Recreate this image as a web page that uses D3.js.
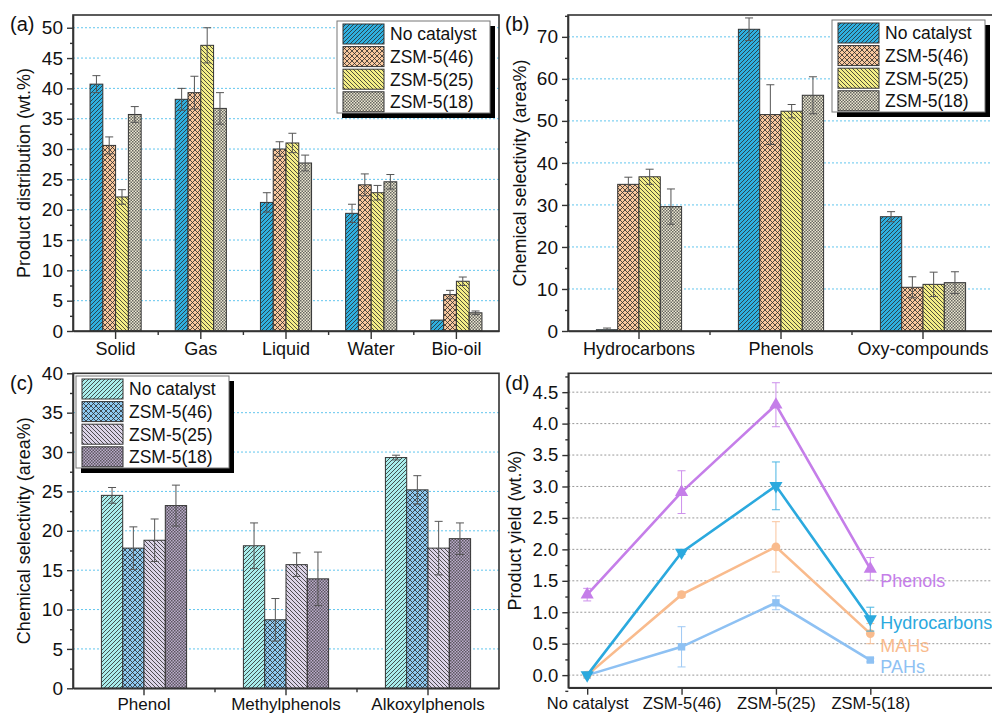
<!DOCTYPE html>
<html>
<head>
<meta charset="utf-8">
<script src="https://cdn.jsdelivr.net/npm/d3@7"></script>
<style>
  body { margin: 0; background: #fff; }
  svg { display: block; }
</style>
</head>
<body>
<script>
(function(){
	// ---- data ----
	const seriesNames = ["No catalyst", "ZSM-5(46)", "ZSM-5(25)", "ZSM-5(18)"];

	// (a) product distribution, wt.%
	const catsA = ["Solid", "Gas", "Liquid", "Water", "Bio-oil"];
	const valsA = [
		[40.7, 38.2, 21.2, 19.4, 1.8],
		[30.6, 39.3, 30.0, 24.1, 6.0],
		[22.1, 47.1, 31.0, 22.8, 8.2],
		[35.7, 36.7, 27.7, 24.6, 3.0]
	];
	const errA = [
		[1.4, 1.8, 1.6, 1.5, 0],
		[1.4, 2.7, 1.2, 1.8, 0.7],
		[1.2, 2.9, 1.6, 1.2, 0.7],
		[1.3, 2.6, 1.3, 1.2, 0.3]
	];

	// (b) chemical selectivity, area%
	const catsB = ["Hydrocarbons", "Phenols", "Oxy-compounds"];
	const valsB = [
		[0.3, 71.8, 27.2],
		[34.9, 51.5, 10.4],
		[36.7, 52.3, 11.1],
		[29.6, 56.1, 11.5]
	];
	const errB = [
		[0.4, 2.7, 1.2],
		[1.7, 7.1, 2.5],
		[1.8, 1.6, 2.9],
		[4.2, 4.4, 2.6]
	];

	// (c) chemical selectivity, area%
	const catsC = ["Phenol", "Methylphenols", "Alkoxylphenols"];
	const valsC = [
		[24.5, 18.1, 29.3],
		[17.8, 8.7, 25.2],
		[18.8, 15.7, 17.8],
		[23.2, 13.9, 19.0]
	];
	const errC = [
		[1.0, 2.9, 0.3],
		[2.7, 2.7, 1.8],
		[2.7, 1.5, 3.4],
		[2.6, 3.4, 2.0]
	];

	// (d) product yield, wt.%
	const catsD = ["No catalyst", "ZSM-5(46)", "ZSM-5(25)", "ZSM-5(18)"];
	const dNames = ["PAHs", "MAHs", "Phenols", "Hydrocarbons"];
	const dPAHs = [0, 0.45, 1.15, 0.24];
	const dPAHsErr = [0, 0.32, 0.11, 0.03];
	const dMAHs = [0, 1.28, 2.04, 0.66];
	const dMAHsErr = [0, 0.04, 0.40, 0.16];
	const dPhenols = [1.28, 2.91, 4.30, 1.69];
	const dPhenolsErr = [0.10, 0.34, 0.35, 0.18];
	const dHydro = [0, 1.95, 3.01, 0.89];
	const dHydroErr = [0, 0.03, 0.38, 0.19];
	const dLabelAt = [0.13, 0.47, 1.51, 0.83];

	// ---- setup ----
	const FONT = "'Liberation Sans', Arial, sans-serif";
	const AXIS = "#333";
	const svg = d3.select("body").append("svg")
		.attr("width", 992).attr("height", 715)
		.style("font-family", FONT);
	svg.append("rect").attr("width", 992).attr("height", 715).attr("fill", "#fff");
	const defs = svg.append("defs");

	// hatch patterns
	function pattern(id, fill, kind){
		var s = kind == "check" ? 3 : (kind == "cross" ? 5 : 4);
		var p = defs.append("pattern").attr("id", id)
			.attr("patternUnits", "userSpaceOnUse")
			.attr("width", s).attr("height", s);
		p.append("rect").attr("width", s).attr("height", s).attr("fill", fill);
		var fwd = "M0," + s + "L" + s + ",0M" + (-s/2) + "," + (s/2) + "L" + (s/2) + "," + (-s/2) + "M" + (s/2) + "," + (s*1.5) + "L" + (s*1.5) + "," + (s/2);
		var bwd = "M0,0L" + s + "," + s + "M" + (-s/2) + "," + (s/2) + "L" + (s/2) + "," + (s*1.5) + "M" + (s/2) + "," + (-s/2) + "L" + (s*1.5) + "," + (s/2);
		if(kind == "fwd" || kind == "cross")
			p.append("path").attr("d", fwd).attr("stroke", "#2a2a2a").attr("stroke-width", 0.8);
		if(kind == "bwd" || kind == "cross")
			p.append("path").attr("d", bwd).attr("stroke", "#2a2a2a").attr("stroke-width", 0.8);
		if(kind == "check"){
			p.append("rect").attr("width", 1.5).attr("height", 1.5).attr("fill", "#3a3a3a").attr("opacity", 0.75);
			p.append("rect").attr("x", 1.5).attr("y", 1.5).attr("width", 1.5).attr("height", 1.5).attr("fill", "#3a3a3a").attr("opacity", 0.75);
		}
		return "url(#" + id + ")";
	}
	const fillsAB = [
		pattern("pa0", "#2fb0e0", "fwd"),
		pattern("pa1", "#f9c89e", "cross"),
		pattern("pa2", "#f4ee86", "bwd"),
		pattern("pa3", "#ece8d2", "check")
	];
	const fillsC = [
		pattern("pc0", "#a9eeec", "fwd"),
		pattern("pc1", "#8ecaf2", "cross"),
		pattern("pc2", "#dcd4e8", "bwd"),
		pattern("pc3", "#bcaccc", "check")
	];

	function styleAxis(a){
		a.select(".domain").attr("stroke", AXIS).attr("stroke-width", 1.6);
		a.selectAll(".tick line").attr("stroke", AXIS).attr("stroke-width", 1.4);
		a.selectAll(".tick text").attr("fill", "#111").style("font-family", FONT);
	}

	function legend(x, y, fills){
		var lg = svg.append("g").attr("transform", "translate(" + x + "," + y + ")");
		var w = 153, h = 92;
		lg.append("rect").attr("x", 5).attr("y", 5).attr("width", w).attr("height", h).attr("fill", "#000");
		lg.append("rect").attr("width", w).attr("height", h).attr("fill", "#fff").attr("stroke", "#777").attr("stroke-width", 1);
		seriesNames.forEach(function(n, i){
			lg.append("rect").attr("x", 6).attr("y", 3 + i*22.6).attr("width", 41).attr("height", 20)
				.attr("fill", fills[i]).attr("stroke", "#333").attr("stroke-width", 1);
			lg.append("text").attr("x", 53).attr("y", 13 + i*22.6).attr("dy", "0.36em")
				.attr("font-size", 17.5).attr("fill", "#111").text(n);
		});
	}

	function barPanel(p){
		var g = svg.append("g");
		var x = d3.scaleBand().domain(p.cats).range([p.left, p.right]);
		var bw = x.bandwidth();
		var xs = d3.scaleBand().domain(d3.range(4)).range([bw*0.2, bw*0.8]);
		var y = d3.scaleLinear().domain([0, p.yTop]).range([p.bottom, p.top]);
		var major = d3.range(0, p.yTop + 0.001, p.step);
		var minor = d3.range(p.step/2, p.yTop, p.step);

		// grid
		g.selectAll(".grid").data(major.filter(function(v){ return v > 0 && y(v) > p.top + 2; }))
			.enter().append("line")
			.attr("x1", p.left).attr("x2", p.right)
			.attr("y1", function(d){ return y(d); }).attr("y2", function(d){ return y(d); })
			.attr("stroke", "#62c6ee").attr("stroke-width", 1).attr("stroke-dasharray", "2,2");

		// bars
		p.vals.forEach(function(row, si){
			g.selectAll(".bar" + si).data(row).enter().append("rect")
				.attr("x", function(d, i){ return x(p.cats[i]) + xs(si); })
				.attr("y", function(d){ return y(d); })
				.attr("width", xs.bandwidth())
				.attr("height", function(d){ return y(0) - y(d); })
				.attr("fill", p.fills[si])
				.attr("stroke", "#333").attr("stroke-width", 1);
		});
		// error bars
		p.vals.forEach(function(row, si){
			row.forEach(function(v, i){
				var e = p.errs[si][i];
				if(!e) return;
				var cx = x(p.cats[i]) + xs(si) + xs.bandwidth()/2;
				var eg = g.append("g").attr("stroke", "#555").attr("stroke-width", 1);
				eg.append("line").attr("x1", cx).attr("x2", cx).attr("y1", y(v - e)).attr("y2", y(v + e));
				eg.append("line").attr("x1", cx - 4).attr("x2", cx + 4).attr("y1", y(v + e)).attr("y2", y(v + e));
				eg.append("line").attr("x1", cx - 4).attr("x2", cx + 4).attr("y1", y(v - e)).attr("y2", y(v - e));
			});
		});

		// frame
		g.append("rect").attr("x", p.left).attr("y", p.top)
			.attr("width", p.right - p.left).attr("height", p.bottom - p.top)
			.attr("fill", "none").attr("stroke", AXIS).attr("stroke-width", 1.6);

		// axes
		var ay = g.append("g").attr("transform", "translate(" + p.left + ",0)")
			.call(d3.axisLeft(y).tickValues(major).tickSize(6).tickSizeOuter(0).tickPadding(4).tickFormat(d3.format("d")))
			.attr("font-size", 19);
		styleAxis(ay);
		var am = g.append("g").attr("transform", "translate(" + p.left + ",0)")
			.call(d3.axisLeft(y).tickValues(minor).tickSize(3).tickFormat(""));
		am.select(".domain").remove();
		styleAxis(am);
		var ax = g.append("g").attr("transform", "translate(0," + p.bottom + ")")
			.call(d3.axisBottom(x).tickSize(p.catTick).tickSizeOuter(0).tickPadding(3))
			.attr("font-size", p.catFont);
		styleAxis(ax);
		p.cats.slice(1).forEach(function(c){
			g.append("line").attr("x1", x(c)).attr("x2", x(c))
				.attr("y1", p.bottom).attr("y2", p.bottom + 4)
				.attr("stroke", AXIS).attr("stroke-width", 1.4);
		});

		// titles
		g.append("text").attr("transform", "translate(" + p.titleX + "," + ((p.top + p.bottom)/2) + ") rotate(-90)")
			.attr("text-anchor", "middle").attr("dy", "0.36em").attr("font-size", 18).attr("fill", "#111")
			.text(p.title);
		g.append("text").attr("x", p.labelX).attr("y", p.labelY).attr("font-size", 20).attr("fill", "#111")
			.text(p.label);

		legend(p.legendX, p.legendY, p.fills);
	}

	barPanel({cats: catsA, vals: valsA, errs: errA, fills: fillsAB,
		left: 73, right: 499, top: 15, bottom: 331, yTop: 52.1, step: 5, catTick: 8, catFont: 18,
		title: "Product distribution (wt.%)", titleX: 24, label: "(a)", labelX: 10, labelY: 31,
		legendX: 337, legendY: 21});
	barPanel({cats: catsB, vals: valsB, errs: errB, fills: fillsAB,
		left: 568, right: 994, top: 15, bottom: 331, yTop: 75.2, step: 10, catTick: 8, catFont: 18,
		title: "Chemical selectivity (area%)", titleX: 520, label: "(b)", labelX: 505, labelY: 31,
		legendX: 832, legendY: 20});
	barPanel({cats: catsC, vals: valsC, errs: errC, fills: fillsC,
		left: 73, right: 499, top: 373.3, bottom: 688.3, yTop: 40, step: 5, catTick: 7, catFont: 17,
		title: "Chemical selectivity (area%)", titleX: 24, label: "(c)", labelX: 10, labelY: 390,
		legendX: 76, legendY: 376});

	// ---- panel (d) ----
	(function(){
		var g = svg.append("g");
		var left = 568.3, right = 993, top = 373.3, bottom = 687.7;
		var x = d3.scaleLinear().domain([0.8, 5.3]).range([left, right]);
		var y = d3.scaleLinear().domain([-0.2, 4.8]).range([bottom, top]);
		var major = d3.range(0, 4.51, 0.5);
		var minor = d3.range(-0.25, 4.8, 0.5);

		g.selectAll(".grid").data(major).enter().append("line")
			.attr("x1", left).attr("x2", right)
			.attr("y1", function(d){ return y(d); }).attr("y2", function(d){ return y(d); })
			.attr("stroke", "#999").attr("stroke-width", 1).attr("stroke-dasharray", "2,2");

		g.append("rect").attr("x", left).attr("y", top)
			.attr("width", right - left).attr("height", bottom - top)
			.attr("fill", "none").attr("stroke", AXIS).attr("stroke-width", 1.6);

		var ay = g.append("g").attr("transform", "translate(" + left + ",0)")
			.call(d3.axisLeft(y).tickValues(major).tickSize(6).tickSizeOuter(0).tickPadding(4).tickFormat(d3.format(".1f")))
			.attr("font-size", 18.5);
		styleAxis(ay);
		var am = g.append("g").attr("transform", "translate(" + left + ",0)")
			.call(d3.axisLeft(y).tickValues(minor).tickSize(3).tickFormat(""));
		am.select(".domain").remove();
		styleAxis(am);
		var ax = g.append("g").attr("transform", "translate(0," + bottom + ")")
			.call(d3.axisBottom(x).tickValues([1, 2, 3, 4]).tickSize(7).tickSizeOuter(0).tickPadding(3)
				.tickFormat(function(d){ return catsD[d - 1]; }))
			.attr("font-size", 16.5);
		styleAxis(ax);

		var series = [
			{name: dNames[0], vals: dPAHs, errs: dPAHsErr, color: "#8ec1f3", sym: d3.symbolSquare, size: 55, rot: 0},
			{name: dNames[1], vals: dMAHs, errs: dMAHsErr, color: "#f9bb8d", sym: d3.symbolCircle, size: 60, rot: 0},
			{name: dNames[2], vals: dPhenols, errs: dPhenolsErr, color: "#c57ee9", sym: d3.symbolTriangle, size: 75, rot: 0},
			{name: dNames[3], vals: dHydro, errs: dHydroErr, color: "#2ba9de", sym: d3.symbolTriangle, size: 75, rot: 180}
		];
		var line = d3.line()
			.x(function(d, i){ return x(i + 1); })
			.y(function(d){ return y(d); });

		series.forEach(function(s, k){
			var sg = g.append("g");
			s.vals.forEach(function(v, i){
				var e = s.errs[i];
				if(!e) return;
				var cx = x(i + 1);
				var eg = sg.append("g").attr("stroke", s.color).attr("stroke-width", 1).attr("opacity", 0.85);
				eg.append("line").attr("x1", cx).attr("x2", cx).attr("y1", y(v - e)).attr("y2", y(v + e));
				eg.append("line").attr("x1", cx - 4).attr("x2", cx + 4).attr("y1", y(v + e)).attr("y2", y(v + e));
				eg.append("line").attr("x1", cx - 4).attr("x2", cx + 4).attr("y1", y(v - e)).attr("y2", y(v - e));
			});
			sg.append("path").datum(s.vals).attr("d", line)
				.attr("fill", "none").attr("stroke", s.color).attr("stroke-width", 2.6);
			sg.selectAll("path.m").data(s.vals).enter().append("path").attr("class", "m")
				.attr("d", d3.symbol().type(s.sym).size(s.size))
				.attr("transform", function(d, i){ return "translate(" + x(i + 1) + "," + y(d) + ") rotate(" + s.rot + ")"; })
				.attr("fill", s.color);
			g.append("text").attr("x", x(4) + 10).attr("y", y(dLabelAt[k])).attr("dy", "0.36em")
				.attr("font-size", 18).attr("fill", s.color).text(s.name);
		});

		g.append("text").attr("transform", "translate(515," + ((top + bottom)/2) + ") rotate(-90)")
			.attr("text-anchor", "middle").attr("dy", "0.36em").attr("font-size", 18).attr("fill", "#111")
			.text("Product yield (wt.%)");
		g.append("text").attr("x", 505).attr("y", 390).attr("font-size", 20).attr("fill", "#111").text("(d)");
	})();
})();
</script>
</body>
</html>
